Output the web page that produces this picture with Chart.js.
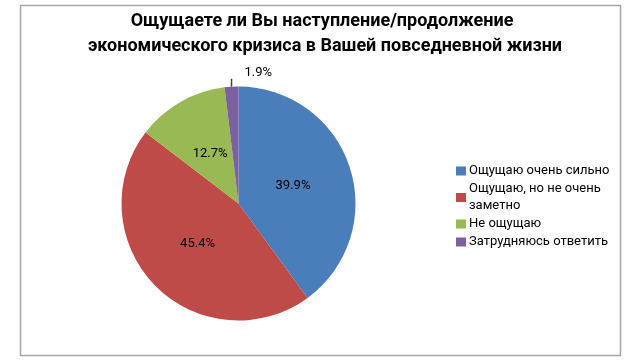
<!DOCTYPE html>
<html>
<head>
<meta charset="utf-8">
<script src="https://cdn.jsdelivr.net/npm/chart.js@4/dist/chart.umd.min.js"></script>
<style>
html,body{margin:0;padding:0;background:#fff;}
#wrap{width:640px;height:360px;position:relative;}
</style>
</head>
<body>
<div id="wrap"><canvas id="c" width="640" height="360"></canvas></div>
<script>
const titleLines = ["Ощущаете ли Вы наступление/продолжение", "экономического кризиса в Вашей повседневной жизни"];
const categories = ["Ощущаю очень сильно", "Ощущаю, но не очень заметно", "Не ощущаю", "Затрудняюсь ответить"];
const legendLines = [["Ощущаю очень сильно"], ["Ощущаю, но не очень", "заметно"], ["Не ощущаю"], ["Затрудняюсь ответить"]];
const values = [39.9, 45.4, 12.7, 1.9];
const colors = ["#4A7EBB", "#BE4B48", "#98B954", "#7D60A0"];

const FONT = "Roboto, 'Noto Sans', 'DejaVu Sans', sans-serif";

const decor = {
  id: 'decor',
  beforeDraw(chart) {
    const ctx = chart.ctx;
    ctx.save();
    ctx.fillStyle = '#fff';
    ctx.fillRect(0, 0, chart.width, chart.height);
    ctx.strokeStyle = '#A6A6A6';
    ctx.lineWidth = 1.5;
    ctx.strokeRect(20.5, 5.5, 600, 350);
    ctx.restore();
  },
  afterDraw(chart) {
    const ctx = chart.ctx;
    ctx.save();
    // title
    ctx.fillStyle = '#000';
    ctx.font = "bold 18px " + FONT;
    ctx.textAlign = 'center';
    ctx.textBaseline = 'middle';
    ctx.fillText(titleLines[0], 322, 21);
    ctx.fillText(titleLines[1], 325, 46);

    // data labels
    const meta = chart.getDatasetMeta(0);
    ctx.font = "13px " + FONT;
    meta.data.forEach((arc, i) => {
      const p = arc.getProps(['x', 'y', 'startAngle', 'endAngle', 'outerRadius'], true);
      const mid = (p.startAngle + p.endAngle) / 2;
      const txt = values[i].toFixed(1) + '%';
      if (values[i] < 5) {
        const ex = p.x + Math.cos(mid) * p.outerRadius;
        const ey = p.y + Math.sin(mid) * p.outerRadius;
        ctx.strokeStyle = '#404040';
        ctx.lineWidth = 1.5;
        ctx.beginPath();
        ctx.moveTo(ex, ey);
        ctx.lineTo(ex, ey - 8);
        ctx.stroke();
        ctx.textAlign = 'left';
        ctx.fillStyle = '#000';
        ctx.fillText(txt, ex + 13, ey - 14);
      } else {
        const r = p.outerRadius * 0.49;
        ctx.textAlign = 'center';
        ctx.fillStyle = '#000';
        ctx.fillText(txt, p.x + Math.cos(mid) * r, p.y + Math.sin(mid) * r);
      }
    });

    // legend
    ctx.font = "13px " + FONT;
    ctx.textAlign = 'left';
    ctx.textBaseline = 'middle';
    let y = 171;
    const lh = 17;
    legendLines.forEach((lines, i) => {
      const blockMid = y + (lines.length - 1) * lh / 2;
      ctx.fillStyle = colors[i];
      ctx.fillRect(456, blockMid - 4.5, 10, 9);
      ctx.fillStyle = '#000';
      lines.forEach((ln, j) => ctx.fillText(ln, 469, y + j * lh));
      y += lines.length * lh + 1;
    });
    ctx.restore();
  }
};

new Chart(document.getElementById('c'), {
  type: 'pie',
  data: {
    labels: categories,
    datasets: [{ data: values, backgroundColor: colors, borderWidth: 0 }]
  },
  options: {
    responsive: false,
    animation: false,
    events: [],
    layout: { padding: { left: 121.5, right: 284.5, top: 86.5, bottom: 39.5 } },
    plugins: { legend: { display: false }, title: { display: false }, tooltip: { enabled: false } }
  },
  plugins: [decor]
});
</script>
</body>
</html>
